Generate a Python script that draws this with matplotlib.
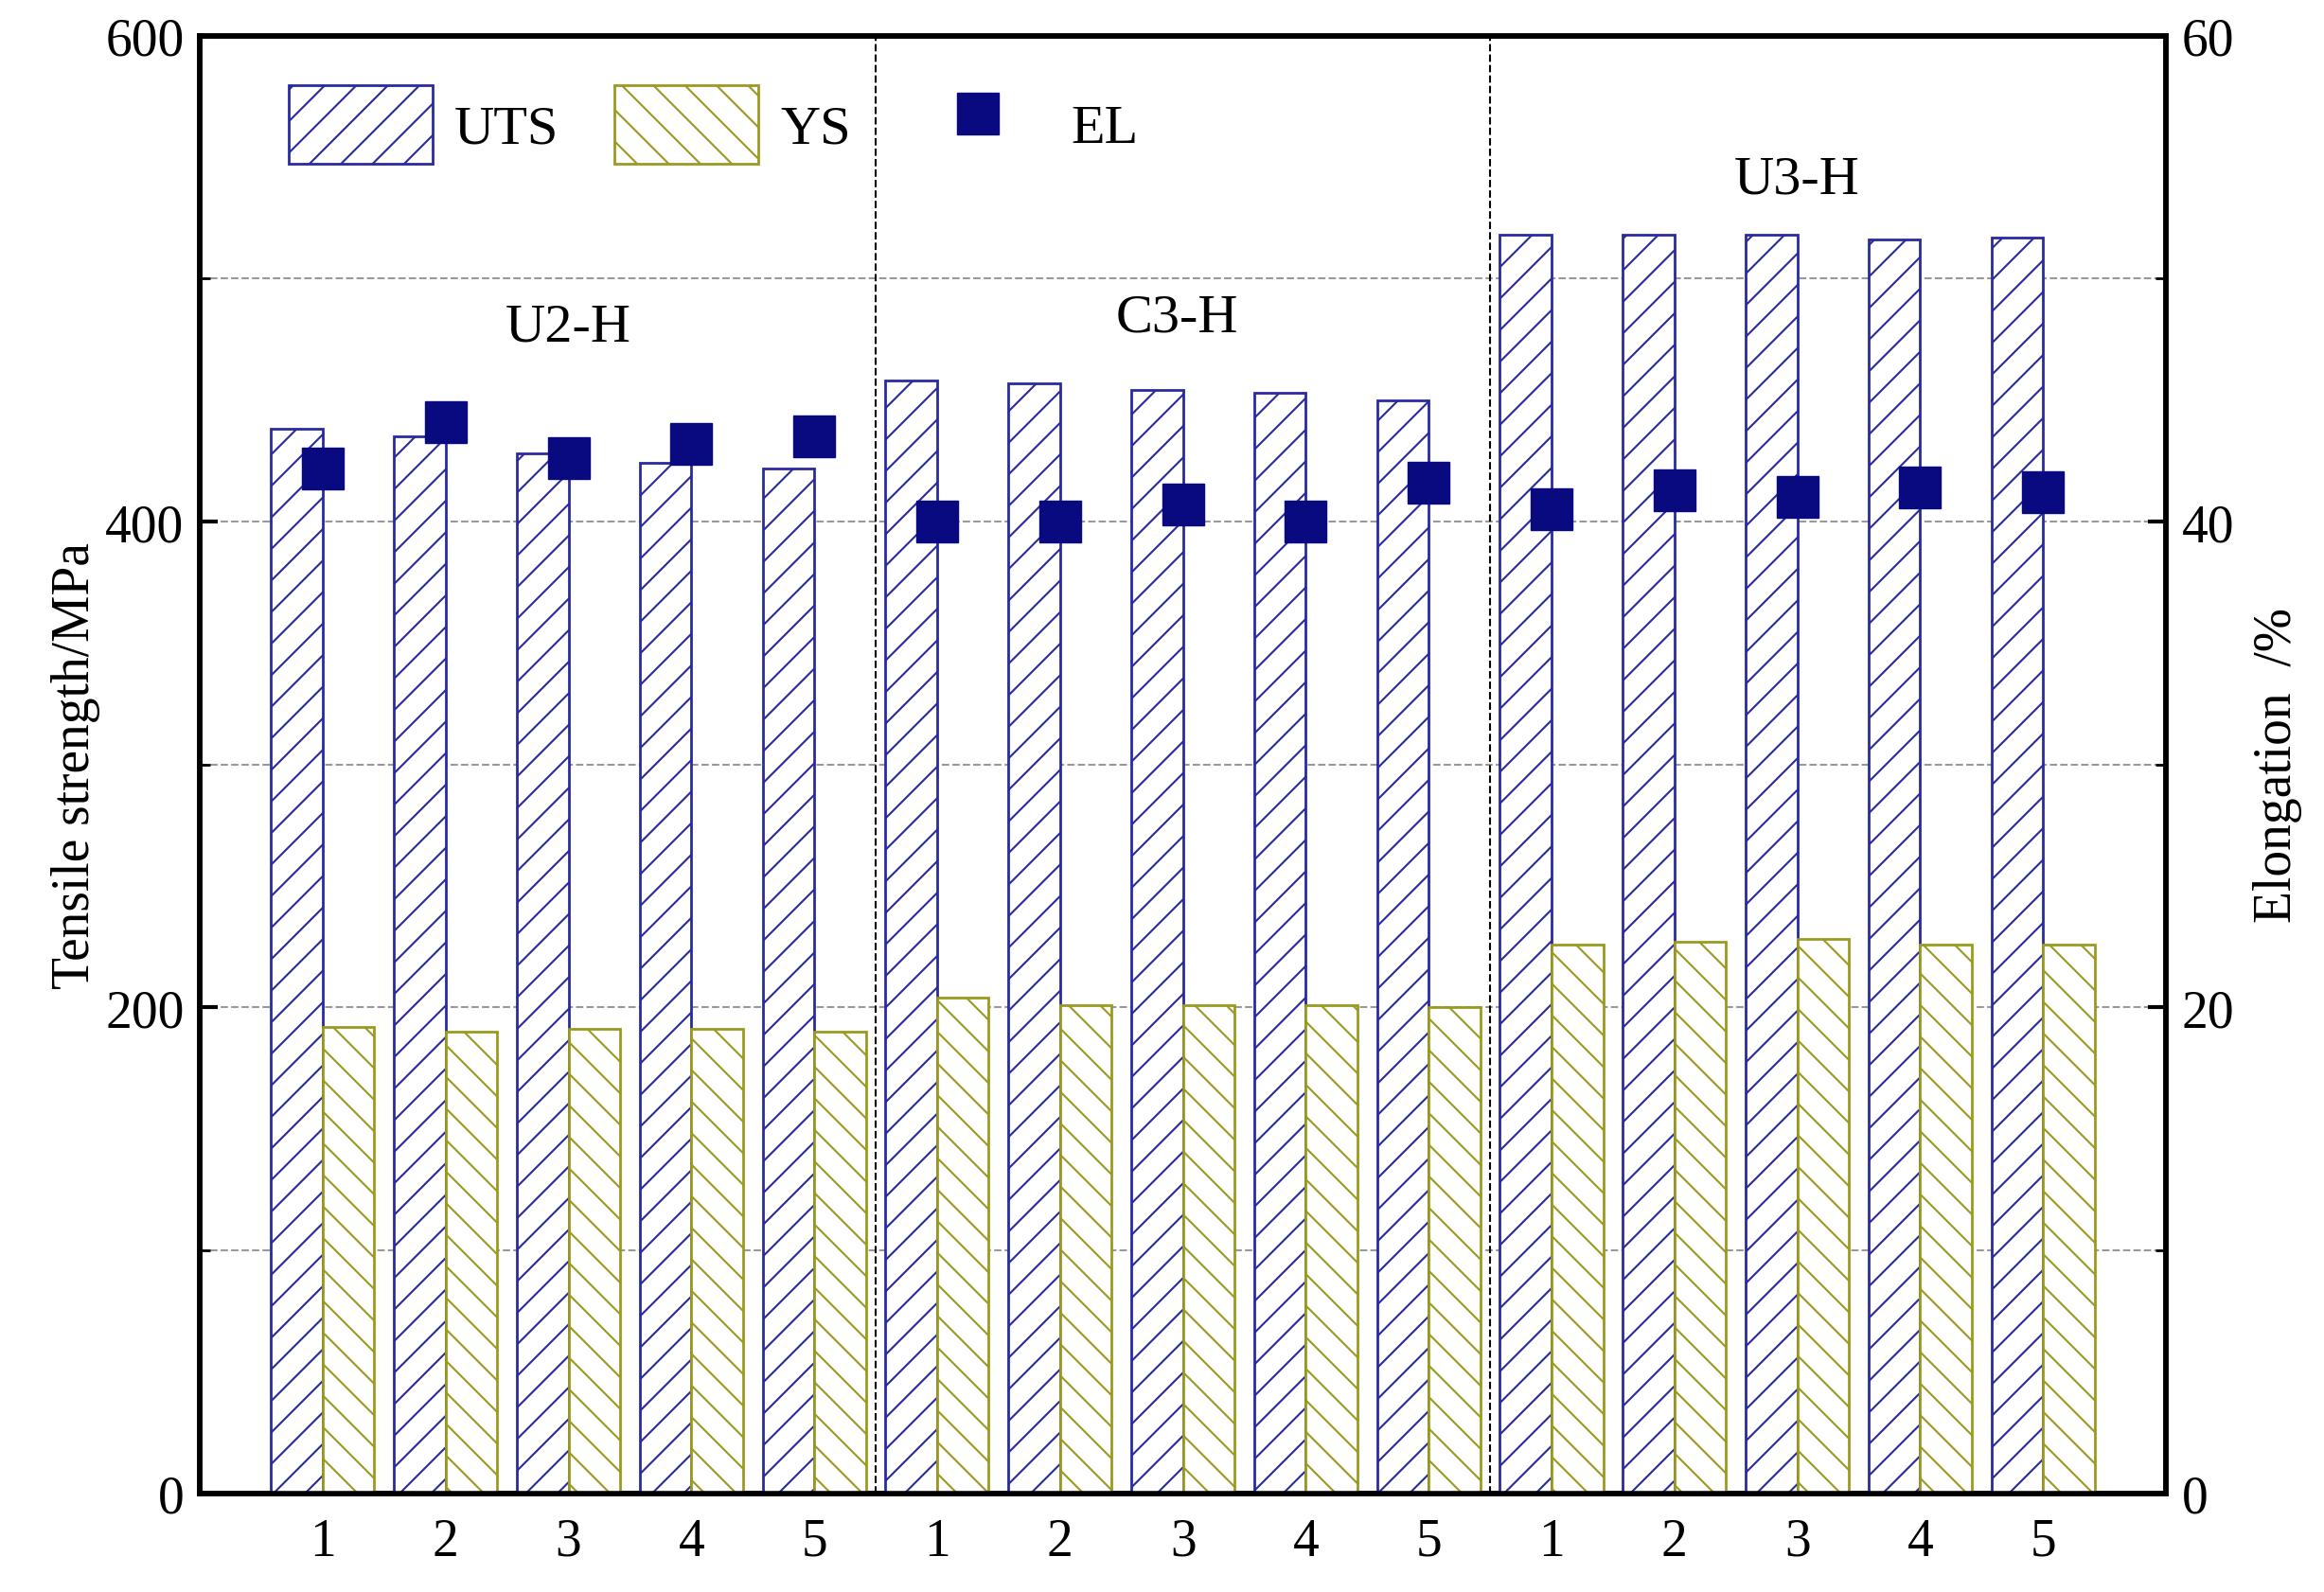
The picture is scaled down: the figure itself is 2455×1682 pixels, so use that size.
import matplotlib
matplotlib.use("Agg")
import matplotlib.pyplot as plt
import numpy as np

plt.rcParams["font.family"] = ["Liberation Serif", "DejaVu Serif"]
plt.rcParams["hatch.linewidth"] = 1.5

# data
samples = ["1", "2", "3", "4", "5"] * 3
groups = ["U2-H", "C3-H", "U3-H"]
uts = [438, 435, 428, 424, 422,
       458, 457, 454, 453, 450,
       518, 518, 518, 516, 517]
ys = [192, 190, 191, 191, 190,
      204, 201, 201, 201, 200,
      226, 227, 228, 226, 226]
el = [42.2, 44.1, 42.6, 43.2, 43.5,
      40.0, 40.0, 40.7, 40.0, 41.6,
      40.5, 41.3, 41.0, 41.4, 41.2]

x = np.arange(1, len(samples) + 1)
w = 0.42
blue = "#2a2aa0"
olive = "#9a9a20"

fig = plt.figure(figsize=(24.55, 16.83), dpi=100)
ax = fig.add_axes([0.086, 0.062, 0.846, 0.915])

ax.bar(x - w / 2, uts, w, facecolor="white", edgecolor=blue, hatch="/",
       linewidth=2, label="UTS", zorder=3)
ax.bar(x + w / 2, ys, w, facecolor="white", edgecolor=olive, hatch="\\",
       linewidth=2, label="YS", zorder=3)

ax2 = ax.twinx()
ax2.plot(x, el, "s", color="#0a0a80", markersize=32, label="EL", zorder=4)

ax.set_xlim(0, 16)
ax.set_ylim(0, 600)
ax2.set_ylim(0, 60)
ax.set_yticks([0, 200, 400, 600])
ax.set_yticks([100, 300, 500], minor=True)
ax2.set_yticks([0, 20, 40, 60])
ax2.set_yticks([10, 30, 50], minor=True)
ax.set_xticks(x)
ax.set_xticklabels(samples)
for y in [100, 200, 300, 400, 500]:
    ax.axhline(y, color="#999999", linestyle="--", linewidth=1.5, zorder=1)
for xv in [5.5, 10.5]:
    ax.axvline(xv, color="black", linestyle="--", linewidth=1.5, zorder=2)

for a in (ax, ax2):
    a.tick_params(axis="both", which="both", direction="in", labelsize=40,
                  width=3, length=14, pad=12)
    a.tick_params(which="minor", length=8, width=2)
    for s in a.spines.values():
        s.set_linewidth(4)
ax.tick_params(axis="x", length=0, pad=18)

ax.set_ylabel("Tensile strength/MPa", fontsize=40)
ax2.set_ylabel("Elongation  /%", fontsize=40, labelpad=14)

for gx, gy, name in zip([3.0, 7.95, 13.0], [480, 484, 541], groups):
    ax.text(gx, gy, name, fontsize=42, ha="center", va="center")

h1, l1 = ax.get_legend_handles_labels()
h2, l2 = ax2.get_legend_handles_labels()
ax.legend(h1 + h2, l1 + l2, loc="upper left", ncol=3, frameon=False,
          fontsize=42, handlelength=2.6, handleheight=1.8, columnspacing=1.0,
          handletextpad=0.4, bbox_to_anchor=(0.02, 1.0))

fig.savefig("out.png", dpi=100)
